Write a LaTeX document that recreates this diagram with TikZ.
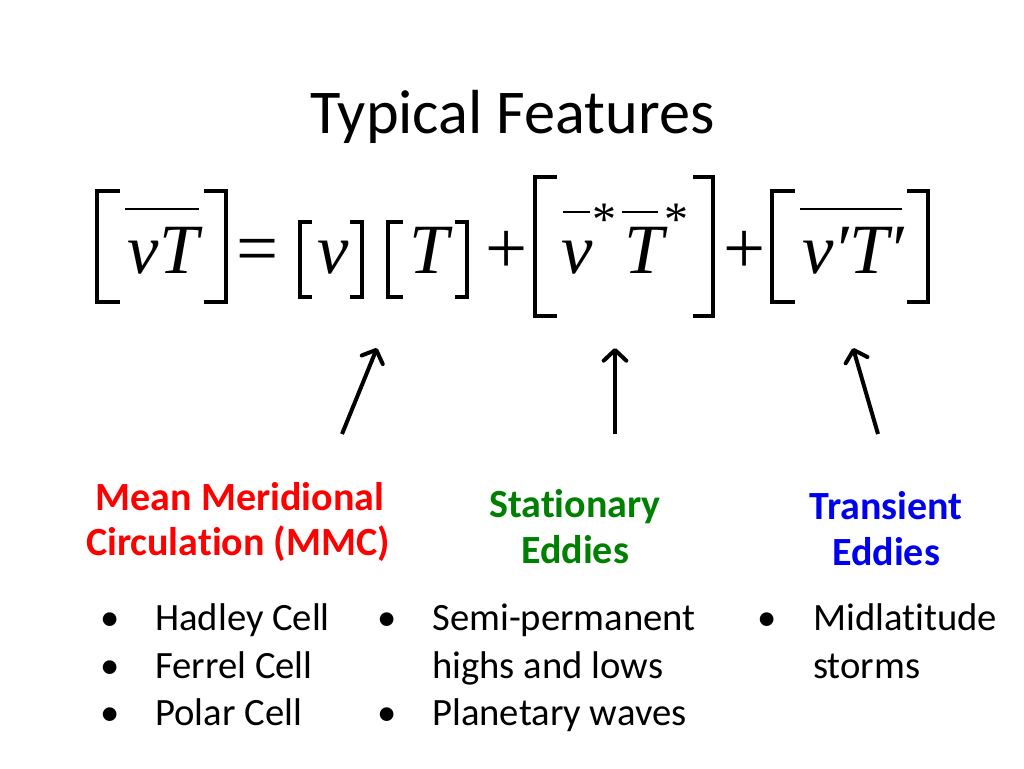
\documentclass[tikz,border=0pt]{standalone}
\usepackage{fontspec}
\setmainfont{Carlito}[Ligatures={TeX,NoCommon}]
\newfontfamily\eqfont{Liberation Serif}
\usetikzlibrary{arrows.meta}
\definecolor{mmcred}{RGB}{255,0,0}
\definecolor{statgreen}{RGB}{0,128,0}
\definecolor{transblue}{RGB}{0,0,240}

\begin{document}
\begin{tikzpicture}[x=0.75pt,y=0.75pt,yscale=-1,xscale=1,
  brk/.style={line width=3.6pt,line join=miter},
  ovl/.style={line width=1.6pt},
  sym/.style={inner sep=0pt,anchor=base,font=\eqfont\itshape\fontsize{53}{56}\selectfont},
  op/.style={inner sep=0pt,anchor=base,font=\eqfont\fontsize{56}{60}\selectfont},
  starsym/.style={inner sep=0pt,anchor=base,font=\eqfont\fontsize{36}{40}\selectfont},
  head/.style={inner sep=0pt,anchor=base,font=\bfseries\fontsize{30}{34}\selectfont},
  item/.style={inner sep=0pt,anchor=base west,font=\fontsize{29}{34}\selectfont},
  dot/.style={inner sep=0pt,anchor=base,font=\fontsize{29}{34}\selectfont},
  pointer/.style={line width=3pt,-{Straight Barb[length=8pt,width=17pt,round]}}]
\useasboundingbox (0,0) rectangle (1024,768);

% Text Node
\node [inner sep=0pt,anchor=base,font=\fontsize{46.7}{52}\selectfont] (title) at (512.5,133) {Typical Features};

%Equation: letters and operators
\node [sym] (lhs) at (163,273) {vT};
\node [op] (eqsign) at (258,273) {=};
\node [sym] (vmean) at (333,273) {v};
\node [sym] (Tmean) at (429,273) {T};
\node [op] (plusA) at (507,273) {+};
\node [sym] (vstat) at (577,273) {v};
\node [starsym] (starA) at (604,235) {*};
\node [sym] (Tstat) at (644,273) {T};
\node [starsym] (starB) at (676,235) {*};
\node [op] (plusB) at (745,273) {+};
\node [sym] (vtrans) at (853,273) {v′T′};

%Overlines
\draw [ovl] (125,209) -- (199,209) ;
\draw [ovl] (563,212) -- (590,212) ;
\draw [ovl] (622,212) -- (658,212) ;
\draw [ovl] (800,209) -- (902,209) ;

%Brackets
\draw [brk] (120,191) -- (97,191) -- (97,302) -- (120,302) ;
\draw [brk] (204,191) -- (226,191) -- (226,302) -- (204,302) ;
\draw [brk] (312,222) -- (300,222) -- (300,297) -- (312,297) ;
\draw [brk] (350,222) -- (362,222) -- (362,297) -- (350,297) ;
\draw [brk] (403,222) -- (388,222) -- (388,297) -- (403,297) ;
\draw [brk] (455,222) -- (467,222) -- (467,297) -- (455,297) ;
\draw [brk] (557,177) -- (535,177) -- (535,316) -- (557,316) ;
\draw [brk] (693,177) -- (713,177) -- (713,316) -- (693,316) ;
\draw [brk] (795,191) -- (772,191) -- (772,302) -- (795,302) ;
\draw [brk] (907,191) -- (928,191) -- (928,302) -- (907,302) ;

%Arrows
\coordinate (mmcTail) at (342,434);
\coordinate (mmcTip) at (377,348);
\coordinate (statTail) at (615,434);
\coordinate (statTip) at (615,348);
\coordinate (transTail) at (878,434);
\coordinate (transTip) at (853,348);
\draw [pointer] (mmcTail) -- (mmcTip) ;
\draw [pointer] (statTail) -- (statTip) ;
\draw [pointer] (transTail) -- (transTip) ;

% Text Node
\node [head,text=mmcred] (mmcA) at (240,510) {Mean Meridional};
\node [head,text=mmcred] (mmcB) at (238,555) {Circulation (MMC)};
\node [head,text=statgreen] (statA) at (575,517) {Stationary};
\node [head,text=statgreen] (statB) at (575,563) {Eddies};
\node [head,text=transblue] (transA) at (886,519) {Transient};
\node [head,text=transblue] (transB) at (886,565) {Eddies};

% Text Node
\node [dot] (dotA) at (110,630) {•};
\node [dot] (dotB) at (110,678) {•};
\node [dot] (dotC) at (110,725) {•};
\node [item] (hadley) at (155,630) {Hadley Cell};
\node [item] (ferrel) at (155,678) {Ferrel Cell};
\node [item] (polar) at (155,725) {Polar Cell};

\node [dot] (dotD) at (387,630) {•};
\node [dot] (dotE) at (387,725) {•};
\node [item] (semi) at (432,630) {Semi-permanent};
\node [item] (highs) at (432,678) {highs and lows};
\node [item] (planet) at (432,725) {Planetary waves};

\node [dot] (dotF) at (767,630) {•};
\node [item] (midlat) at (813,630) {Midlatitude};
\node [item] (storms) at (813,678) {storms};

\end{tikzpicture}
\end{document}
